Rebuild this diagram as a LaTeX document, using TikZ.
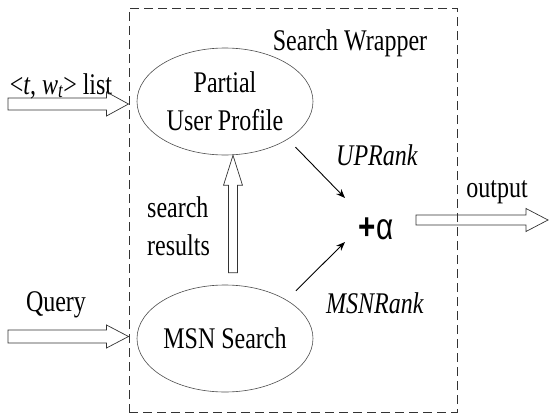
\documentclass[tikz,border=0pt]{standalone}
\usepackage{fontspec}
\setmainfont{Liberation Serif}[FakeStretch=0.8]
\newfontfamily\alphafont{Liberation Sans}[FakeStretch=0.8]
\usepackage{tikz}
\usetikzlibrary{shapes.geometric, arrows.meta, calc}
\tikzstyle{wrapper} = [draw=black!80, line width=1pt, dash pattern=on 9pt off 5pt, inner sep=0pt]
\tikzstyle{blob} = [ellipse, draw=black!70, line width=0.6pt, minimum width=176pt, minimum height=107pt, inner sep=0pt, align=center]
\tikzstyle{hollow} = [draw=black!80, line width=0.7pt]
\tikzstyle{rankarrow} = [line width=0.9pt, -{Stealth[length=9pt,width=7pt]}]
\tikzstyle{lbl} = [anchor=base, inner sep=0pt]

% block arrow: from, to, half shaft, half head, head length
\newcommand{\fatarrow}[5]{%
  \draw[hollow] let \p1=(#1), \p2=(#2), \n1={atan2(\y2-\y1,\x2-\x1)}, \n2={veclen(\x2-\x1,\y2-\y1)} in
    [shift={(\p1)}, rotate=\n1]
    (0pt,#3pt) -- (\n2-#5pt,#3pt) -- (\n2-#5pt,#4pt) -- (\n2,0pt) -- (\n2-#5pt,-#4pt) -- (\n2-#5pt,-#3pt) -- (0pt,-#3pt) -- cycle;}

\begin{document}
\begin{tikzpicture}[x=1pt, y=-1pt, font=\fontsize{30}{38}\selectfont]
\useasboundingbox (0,0) rectangle (549,415);

% Wrapper box
\node[wrapper, minimum width=328pt, minimum height=404pt] (wrap) at (293,210) {};
\node[lbl] (wraplbl) at (350,50) {Search Wrapper};

% Components
\node[blob] (upp) at (225,101.5) {Partial\\User Profile};
\node[blob] (msn) at (225,338.5) {MSN Search};
\node[inner sep=0pt, font=\alphafont\fontsize{37}{38}\selectfont] (plus) at (376,229) {\textbf{+}α};

% Inputs
\coordinate (inA) at (8,104);
\coordinate (inQ) at (8,336.5);
\node[lbl] (listlbl) at (61,94) {<\textit{t}, \textit{w\textsubscript{t}}> list};
\node[lbl] (querylbl) at (56,311) {Query};
\fatarrow{inA}{wrap.west |- inA}{6}{12}{22}
\fatarrow{inQ}{wrap.west |- inQ}{6.5}{11.5}{22}

% Search results
\coordinate (resS) at ($(msn.north)+(8,-12)$);
\fatarrow{resS}{upp.south -| resS}{4.5}{9.5}{30}
\node[inner sep=0pt, anchor=west, align=left] (reslbl) at (147,226) {search\\results};

% Ranks
\draw[rankarrow, shorten <=11pt] (upp.-31) -- ($(plus)+(-31,-31)$);
\draw[rankarrow, shorten <=13pt] (msn.32) -- ($(plus)+(-31,13)$);
\node[lbl] (uplbl) at (377,165) {\textit{UPRank}};
\node[lbl] (msnrlbl) at (375,313) {\textit{MSNRank}};

% Output
\coordinate (outS) at (416,220);
\coordinate (outE) at (548,220);
\fatarrow{outS}{outE}{5}{11.5}{22}
\node[lbl] (outlbl) at (497,197) {output};
\end{tikzpicture}
\end{document}
